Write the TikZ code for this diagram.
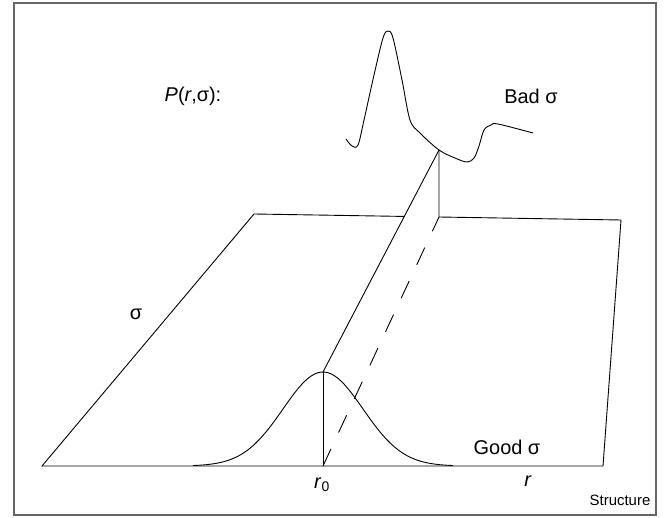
\documentclass[tikz,border=0pt]{standalone}
\usepackage{fontspec}
\setmainfont{Liberation Sans}
\usetikzlibrary{calc}

\begin{document}
\begin{tikzpicture}[
      x=1bp, y=-1bp,
      edge/.style={draw=black, line width=0.9bp},
      hidden/.style={edge, dash pattern=on 19bp off 18bp},
      label/.style={font=\fontsize{20}{23}\selectfont, inner sep=0pt},
      tag/.style={font=\fontsize{15}{17}\selectfont, inner sep=0pt}
    ]
      \useasboundingbox (0,0) rectangle (666,518);
      \draw[gray!80!black, line width=1.3bp] (14,3) rectangle (656,515);

      % the (r,sigma) plane
      \coordinate (fl) at (42,466);
      \coordinate (fr) at (603,466);
      \coordinate (br) at (621,220);
      \coordinate (bl) at (254,214);
      \coordinate (peak) at (323,372);
      \coordinate (base) at (323,466);
      \coordinate (top) at (439,150);
      \coordinate (foot) at (439,217);
      \coordinate (cut) at ($(bl)!0.81!(foot)$);

      \draw[edge] (cut) -- (bl) -- (fl) -- (fr) -- (br) -- (foot) -- (top);
      \draw[edge] (peak) -- (base);
      \draw[edge] (peak) -- (top);
      \draw[hidden] (base) -- (foot);

      % good sigma: gaussian
      \draw[edge] plot[domain=-13:13, samples=80] ({323+10*\x}, {466-94*exp(-(\x*\x)/32)});

      % bad sigma
      \draw[edge] plot[smooth, tension=0.55] coordinates {
        (346,139) (352,146) (358,145) (364,120) (374,75) (383,38) (388,31)
        (393,38) (402,80) (410,120) (420,133) (439,150) (455,158) (467,162)
        (474,158) (479,146) (484,130) (491,125) (498,124) (533,133)};

      \node[label] (ptitle) at (193,96) {\textit{P}(\textit{r},σ):};
      \node[label] (bad) at (531,96) {Bad σ};
      \node[label] (good) at (507,447) {Good σ};
      \node[label] (sigma) at (136,314) {σ};
      \node[label] (rzero) at (322,485) {\textit{r}\textsubscript{0}};
      \node[label] (raxis) at (528,481) {\textit{r}};
      \node[tag] (name) at (620,500) {Structure};
    \end{tikzpicture}
\end{document}
